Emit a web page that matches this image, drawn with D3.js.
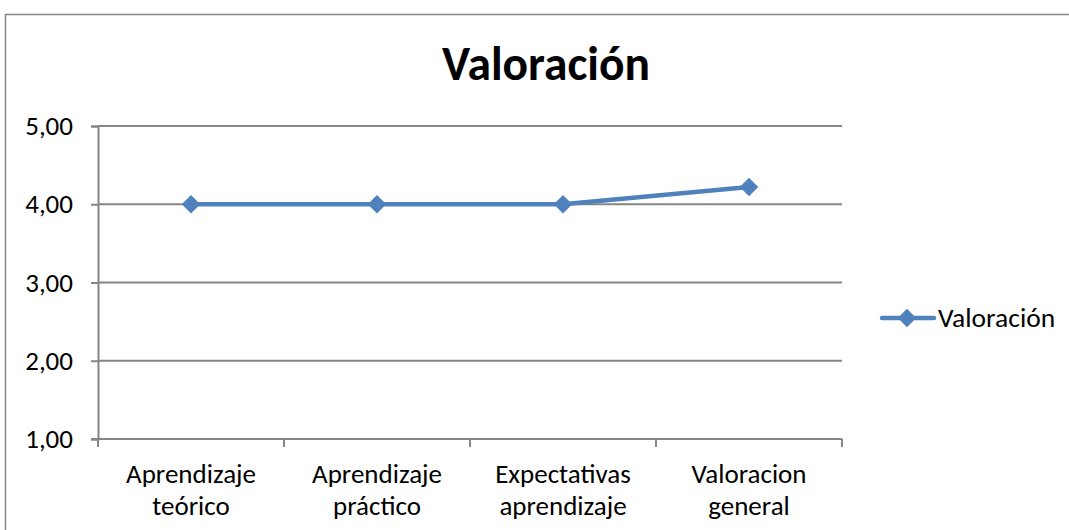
<!DOCTYPE html>
<html>
<head>
<meta charset="utf-8">
<script src="https://cdn.jsdelivr.net/npm/d3@7"></script>
<style>
  body { margin: 0; background: #fff; }
  svg { display: block; font-family: Carlito, Calibri, "Open Sans", sans-serif; }
</style>
</head>
<body>
<svg id="canvas" width="1069" height="530"></svg>
<script>
// chart data
const categories = [["Aprendizaje", "teórico"], ["Aprendizaje", "práctico"], ["Expectativas", "aprendizaje"], ["Valoracion", "general"]];
const values = [4.00, 4.00, 4.00, 4.22];
const yTicks = [1, 2, 3, 4, 5];
const seriesName = "Valoración";

const svg = d3.select("#canvas");
const blue = "#4f81bd";
const grey = "#868686";

// outer frame of the chart
svg.append("rect")
   .attr("x", 5.5).attr("y", 14.5)
   .attr("width", 1100).attr("height", 600)
   .attr("fill", "none").attr("stroke", grey).attr("stroke-width", 1.5);

const plotL = 98, plotR = 842, plotT = 126, plotB = 439;

const x = d3.scaleBand().domain(d3.range(categories.length)).range([plotL, plotR]);
const y = d3.scaleLinear().domain([1, 5]).range([plotB, plotT]);

// horizontal gridlines
svg.append("g").selectAll("line").data(yTicks.filter(d => d > 1))
   .enter().append("line")
   .attr("x1", plotL).attr("x2", plotR)
   .attr("y1", d => y(d)).attr("y2", d => y(d))
   .attr("stroke", grey).attr("stroke-width", 2);

// y axis
const yAxis = svg.append("g")
   .attr("transform", `translate(${plotL},0)`)
   .call(d3.axisLeft(y).tickValues(yTicks).tickSize(7).tickPadding(18)
        .tickFormat(d => d3.format(".2f")(d).replace(".", ",")));
yAxis.attr("font-family", null).attr("font-size", null);
yAxis.select(".domain").attr("stroke", grey).attr("stroke-width", 2);
yAxis.selectAll(".tick line").attr("stroke", grey).attr("stroke-width", 2);
yAxis.selectAll("text").attr("font-size", 27).attr("fill", "#000");

// x axis
svg.append("line")
   .attr("x1", plotL - 7).attr("x2", plotR)
   .attr("y1", plotB).attr("y2", plotB)
   .attr("stroke", grey).attr("stroke-width", 2);
svg.append("g").selectAll("line").data(d3.range(categories.length + 1))
   .enter().append("line")
   .attr("x1", d => plotL + d * x.step()).attr("x2", d => plotL + d * x.step())
   .attr("y1", plotB).attr("y2", plotB + 8)
   .attr("stroke", grey).attr("stroke-width", 2);

const labels = svg.append("g").selectAll("text").data(categories)
   .enter().append("text")
   .attr("text-anchor", "middle")
   .attr("font-size", 27)
   .attr("transform", (d, i) => `translate(${x(i) + x.bandwidth() / 2},0)`);
labels.selectAll("tspan").data(d => d).enter().append("tspan")
   .attr("x", 0).attr("y", (d, i) => 483 + i * 32)
   .text(d => d);

// the series line
const line = d3.line()
   .x((d, i) => x(i) + x.bandwidth() / 2)
   .y(d => y(d));
svg.append("path").datum(values)
   .attr("d", line)
   .attr("fill", "none").attr("stroke", blue).attr("stroke-width", 4.5)
   .attr("stroke-linejoin", "round");

const diamond = d3.symbol().type(d3.symbolSquare).size(170);
svg.append("g").selectAll("path").data(values)
   .enter().append("path")
   .attr("d", diamond)
   .attr("fill", blue)
   .attr("transform", (d, i) => `translate(${x(i) + x.bandwidth() / 2},${y(d)}) rotate(45)`);

// title
svg.append("text")
   .attr("x", 546).attr("y", 80)
   .attr("text-anchor", "middle")
   .attr("font-size", 47.5).attr("font-weight", "bold")
   .text(seriesName);

// legend
const lg = svg.append("g").attr("transform", "translate(880,318)");
lg.append("line").attr("x1", 2).attr("x2", 54).attr("y1", 0).attr("y2", 0)
  .attr("stroke", blue).attr("stroke-width", 4.5).attr("stroke-linecap", "round");
lg.append("path").attr("d", diamond).attr("fill", blue)
  .attr("transform", "translate(27,0) rotate(45)");
lg.append("text").attr("x", 58).attr("y", 9).attr("font-size", 27.5).text(seriesName);
</script>
</body>
</html>
